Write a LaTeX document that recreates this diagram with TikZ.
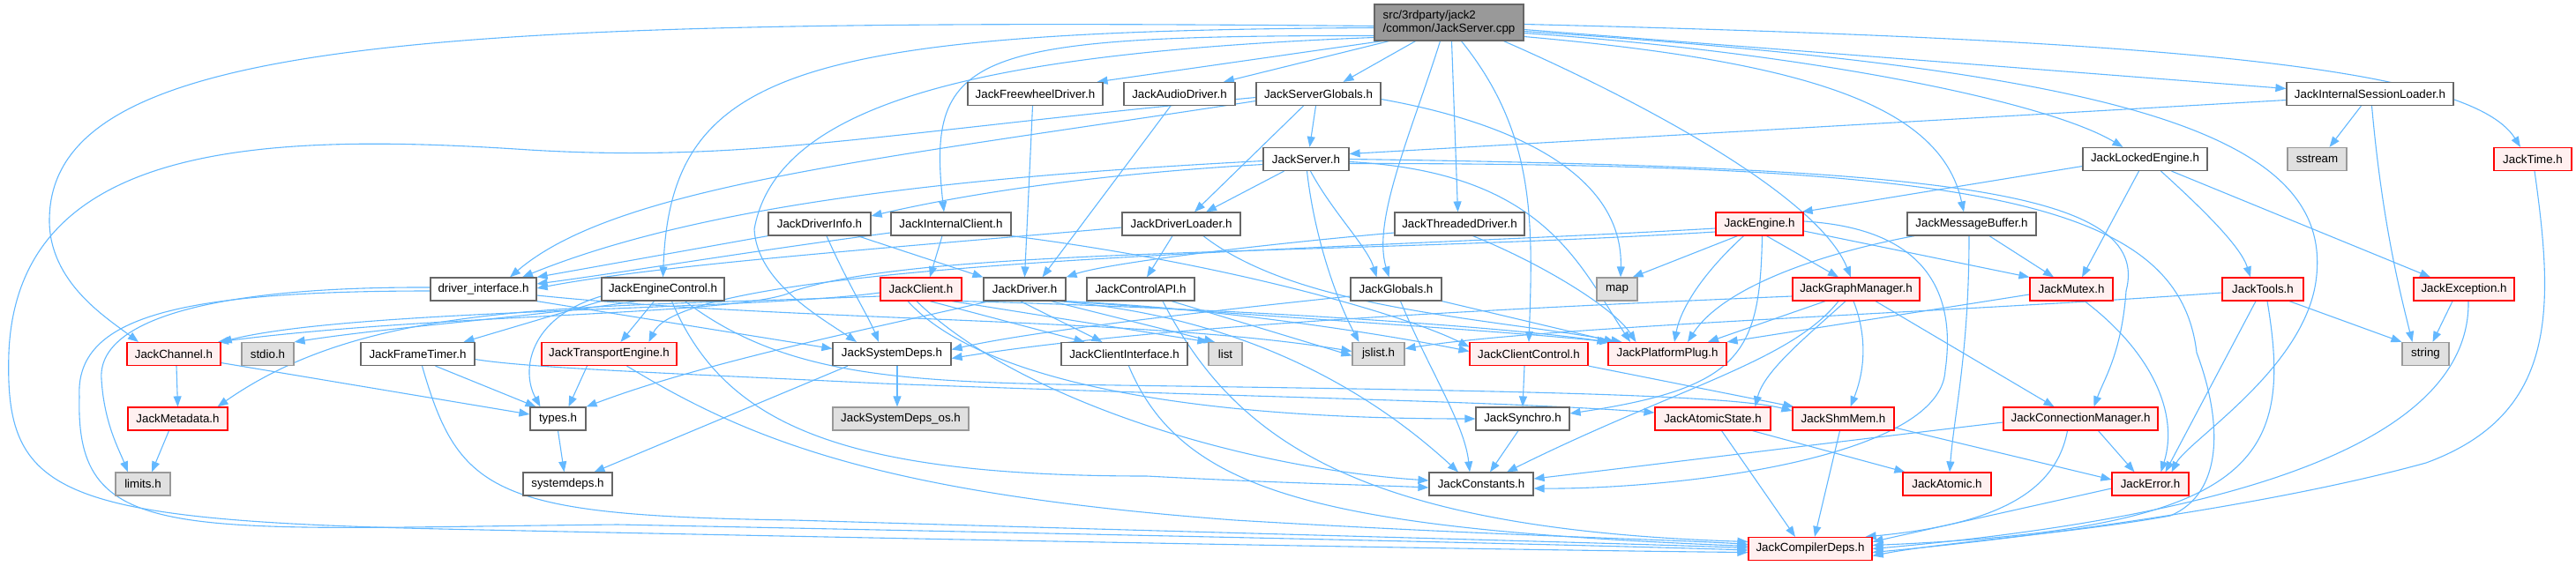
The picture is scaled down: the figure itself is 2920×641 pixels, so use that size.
\documentclass[tikz,border=0pt]{standalone}
\usepackage{fontspec}
\newfontfamily\nodefont{Liberation Sans}
\usetikzlibrary{arrows.meta,backgrounds}
\definecolor{edgeblue}{HTML}{63B8FF}
\definecolor{nodegray}{HTML}{666666}
\definecolor{rootfill}{HTML}{999999}
\definecolor{redfill}{HTML}{FFF0F0}
\definecolor{extfill}{HTML}{E0E0E0}
\definecolor{extdraw}{HTML}{999999}
\begin{document}
\begin{tikzpicture}[x=1pt,y=-1pt,
  nd/.style={draw=nodegray, fill=white, line width=1.2pt, minimum height=26pt, inner sep=0pt, font=\nodefont\fontsize{13.33pt}{15pt}\selectfont},
  rnd/.style={nd, draw=red, fill=redfill},
  xnd/.style={nd, draw=extdraw, fill=extfill},
  rootnd/.style={nd, fill=rootfill, minimum height=41pt, align=left},
  e/.style={draw=edgeblue, line width=1.1pt, -{Triangle[length=12pt,width=9pt]}}]
\useasboundingbox (0,0) rectangle (2920,641);
% row 0
\node[rootnd, minimum width=169pt] (R) at (1642.5,25.5) {src/3rdparty/jack2\\/common/JackServer.cpp};
% row 1
\node[nd, minimum width=153pt] (FWD) at (1173.5,106.5) {JackFreewheelDriver.h};
\node[nd, minimum width=126pt] (AD) at (1337,106.5) {JackAudioDriver.h};
\node[nd, minimum width=141pt] (SG) at (1494.5,106.5) {JackServerGlobals.h};
\node[nd, minimum width=189pt] (ISL) at (2686.5,106.5) {JackInternalSessionLoader.h};
% row 2
\node[nd, minimum width=97pt] (JS) at (1480.5,180.5) {JackServer.h};
\node[nd, minimum width=141pt] (LE) at (2431.5,180.5) {JackLockedEngine.h};
\node[xnd, minimum width=67pt] (SS) at (2626.5,180.5) {sstream};
\node[rnd, minimum width=88pt] (JT) at (2871,180.5) {JackTime.h};
% row 3
\node[nd, minimum width=116pt] (DI) at (929,254) {JackDriverInfo.h};
\node[nd, minimum width=136pt] (IC) at (1078,254) {JackInternalClient.h};
\node[nd, minimum width=134pt] (DL) at (1339,254) {JackDriverLoader.h};
\node[nd, minimum width=147pt] (TD) at (1654.5,254) {JackThreadedDriver.h};
\node[rnd, minimum width=99pt] (JE) at (1994.5,254) {JackEngine.h};
\node[nd, minimum width=146pt] (MB) at (2235,254) {JackMessageBuffer.h};
% row 4
\node[nd, minimum width=120pt] (DIF) at (548,328) {driver\_interface.h};
\node[nd, minimum width=139pt] (EC) at (751.5,328) {JackEngineControl.h};
\node[rnd, minimum width=92pt] (JC) at (1044,328) {JackClient.h};
\node[nd, minimum width=93pt] (JD) at (1161.5,328) {JackDriver.h};
\node[nd, minimum width=122pt] (CA) at (1293,328) {JackControlAPI.h};
\node[nd, minimum width=103pt] (JG) at (1582.5,328) {JackGlobals.h};
\node[xnd, minimum width=46pt] (MAP) at (1833,328) {map};
\node[rnd, minimum width=144pt] (GM) at (2104,328) {JackGraphManager.h};
\node[rnd, minimum width=94pt] (MX) at (2348,328) {JackMutex.h};
\node[rnd, minimum width=92pt] (TL) at (2565,328) {JackTools.h};
\node[rnd, minimum width=114pt] (EX) at (2793,328) {JackException.h};
% row 5
\node[rnd, minimum width=106pt] (CH) at (197,401.5) {JackChannel.h};
\node[xnd, minimum width=59pt] (STDIO) at (303.5,401.5) {stdio.h};
\node[nd, minimum width=129pt] (FT) at (473.5,401.5) {JackFrameTimer.h};
\node[rnd, minimum width=153pt] (TE) at (690.5,401.5) {JackTransportEngine.h};
\node[nd, minimum width=134pt] (SD) at (1011,401.5) {JackSystemDeps.h};
\node[nd, minimum width=143pt] (CI) at (1274.5,401.5) {JackClientInterface.h};
\node[xnd, minimum width=38pt] (LIST) at (1389,401.5) {list};
\node[xnd, minimum width=59pt] (JSL) at (1562.5,401.5) {jslist.h};
\node[rnd, minimum width=134pt] (CC) at (1733,401.5) {JackClientControl.h};
\node[rnd, minimum width=134pt] (PP) at (1890,401.5) {JackPlatformPlug.h};
\node[xnd, minimum width=53pt] (STR) at (2749.5,401.5) {string};
% row 6
\node[rnd, minimum width=113pt] (MD) at (201.5,475) {JackMetadata.h};
\node[nd, minimum width=63pt] (TY) at (632.5,475) {types.h};
\node[xnd, minimum width=154pt] (SDOS) at (1021,475) {JackSystemDeps\_os.h};
\node[nd, minimum width=106pt] (SY) at (1726,475) {JackSynchro.h};
\node[rnd, minimum width=131pt] (AS) at (1941.5,475) {JackAtomicState.h};
\node[rnd, minimum width=115pt] (SM) at (2089.5,475) {JackShmMem.h};
\node[rnd, minimum width=175pt] (CM) at (2358.5,475) {JackConnectionManager.h};
% row 7
\node[xnd, minimum width=62pt] (LIM) at (162,549) {limits.h};
\node[nd, minimum width=101pt] (SYD) at (643.5,549) {systemdeps.h};
\node[nd, minimum width=118pt] (CO) at (1679,549) {JackConstants.h};
\node[rnd, minimum width=100pt] (AT) at (2207,549) {JackAtomic.h};
\node[rnd, minimum width=87pt] (ER) at (2437.5,549) {JackError.h};
% row 8
\node[rnd, minimum width=140pt] (CD) at (2052,622.5) {JackCompilerDeps.h};

\begin{scope}[on background layer]
% root
\draw[e] ([xshift=-76pt]R.south) -- ([xshift=70pt]FWD.north);
\draw[e] ([xshift=-68pt]R.south) -- ([xshift=50pt]AD.north);
\draw[e] ([xshift=-38pt]R.south) -- ([xshift=28pt]SG.north);
\draw[e] ([yshift=-8pt]R.east) -- ([yshift=6pt]ISL.west);
\draw[e] ([yshift=-2pt]R.east) .. controls (2450,45) and (2800,75) .. ([xshift=-14pt]JT.north);
\draw[e] ([yshift=-12pt]R.east) .. controls (2050,60) and (2320,115) .. ([xshift=-25pt]LE.north);
\draw[e] ([yshift=-16pt]R.east) .. controls (2050,70) and (2200,120) .. ([xshift=-9pt]MB.north);
\draw[e] ([xshift=62pt]R.south) .. controls (1850,110) and (2060,220) .. ([xshift=-6pt]GM.north);
\draw[e] ([xshift=-10pt]R.south) .. controls (1600,150) and (1555,250) .. ([xshift=-8pt]JG.north);
\draw[e] ([xshift=3pt]R.south) -- ([xshift=-2pt]TD.north);
\draw[e] ([yshift=-15pt]R.west) .. controls (1100,40) and (1050,60) .. ([xshift=-8pt]IC.north);
\draw[e] ([yshift=-6pt]R.west) .. controls (900,35) and (760,80) .. (EC.north);
\draw[e] ([yshift=-4pt]R.west) .. controls (500,20) and (56,40) .. (56,250) .. controls (56,320) and (120,360) .. ([xshift=-40pt]CH.north);
\draw[e] ([yshift=-17pt]R.west) .. controls (1100,60) and (880,120) .. (855,260) .. controls (858,320) and (930,360) .. ([xshift=-40pt]SD.north);
\draw[e] ([xshift=14pt]R.south) .. controls (1740,150) and (1738,250) .. (CC.north);
\draw[e] ([yshift=-10pt]R.east) .. controls (2400,80) and (2650,150) .. (2625,320) .. controls (2610,420) and (2480,500) .. ([xshift=24pt]ER.north);
% JackServerGlobals
\draw[e] ([xshift=-3pt]SG.south) -- ([xshift=4pt]JS.north);
\draw[e] ([xshift=-17pt]SG.south) -- ([xshift=15pt]DL.north);
\draw[e] ([yshift=-6pt]SG.east) .. controls (1720,140) and (1840,200) .. ([xshift=4pt]MAP.north);
\draw[e] ([yshift=-8pt]SG.west) .. controls (1000,180) and (700,210) .. ([xshift=30pt]DIF.north);
\draw[e] ([yshift=-4pt]SG.west) .. controls (1000,150) and (850,185) .. (600,170) .. controls (300,150) and (20,160) .. (10,400) .. controls (5,560) and (60,590) .. (500,600) .. controls (1200,615) and (1800,625) .. ([yshift=-4pt]CD.west);
% JackServer
\draw[e] ([yshift=-6pt]JS.west) .. controls (1200,200) and (1060,228) .. ([yshift=9pt]DI.east);
\draw[e] ([yshift=-2pt]JS.west) .. controls (1100,200) and (800,230) .. ([xshift=44pt]DIF.north);
\draw[e] ([xshift=-25pt]JS.south) -- ([xshift=28pt]DL.north);
\draw[e] ([xshift=5pt]JS.south) .. controls (1510,240) and (1550,280) .. ([xshift=-22pt]JG.north);
\draw[e] ([xshift=1pt]JS.south) .. controls (1490,270) and (1515,340) .. ([xshift=-22pt]JSL.north);
\draw[e] ([yshift=-3pt]JS.east) .. controls (1750,195) and (1790,300) .. ([xshift=-42pt]PP.north);
\draw[e] (JS.east) .. controls (2200,190) and (2440,215) .. (2410,330) .. controls (2405,400) and (2385,430) .. ([xshift=15pt]CM.north);
\draw[e] ([yshift=-5pt]JS.east) .. controls (2250,185) and (2470,230) .. (2490,400) .. controls (2520,480) and (2520,560) .. (2460,585) .. controls (2350,605) and (2200,615) .. ([yshift=-8pt]CD.east);
% JackInternalSessionLoader, JackTime
\draw[e] ([yshift=-7pt]ISL.west) -- ([yshift=6pt]JS.east);
\draw[e] ([xshift=-10pt]ISL.south) -- ([xshift=14pt]SS.north);
\draw[e] ([xshift=2pt]ISL.south) .. controls (2700,250) and (2720,330) .. ([xshift=-15pt]STR.north);
\draw[e] ([xshift=2pt]JT.south) .. controls (2895,350) and (2900,470) .. (2750,525) .. controls (2550,580) and (2250,615) .. ([yshift=-4pt]CD.east);
% JackLockedEngine
\draw[e] ([yshift=-8pt]LE.west) -- ([xshift=-2pt]JE.north east);
\draw[e] ([xshift=-7pt]LE.south) -- ([xshift=12pt]MX.north);
\draw[e] ([xshift=18pt]LE.south) .. controls (2500,240) and (2540,280) .. ([xshift=-14pt]TL.north);
\draw[e] ([xshift=30pt]LE.south) -- ([xshift=-38pt]EX.north);
% JackEngine
\draw[e] ([xshift=-25pt]JE.south) -- ([xshift=-6pt]MAP.north east);
\draw[e] ([xshift=8pt]JE.south) -- ([xshift=-20pt]GM.north);
\draw[e] ([yshift=-8pt]JE.east) -- (MX.north west);
\draw[e] ([xshift=-18pt]JE.south) .. controls (1930,310) and (1905,350) .. ([xshift=8pt]PP.north);
\draw[e] ([xshift=3pt]JE.south) .. controls (1995,400) and (1975,440) .. ([yshift=6pt]SY.east);
\draw[e] ([yshift=3pt]JE.east) .. controls (2200,260) and (2215,350) .. (2205,420) .. controls (2200,520) and (1900,555) .. ([yshift=-5pt]CO.east);
\draw[e] ([yshift=-5pt]JE.west) .. controls (1500,285) and (780,295) .. ([xshift=45pt]TE.north);
\draw[e] ([yshift=-9pt]JE.west) .. controls (1500,290) and (1050,280) .. (900,330) .. controls (850,358) and (500,355) .. ([xshift=50pt]CH.north);
% JackMessageBuffer
\draw[e] ([xshift=20pt]MB.south) -- ([xshift=-20pt]MX.north);
\draw[e] ([xshift=-65pt]MB.south) .. controls (2050,290) and (1950,330) .. ([xshift=23pt]PP.north);
\draw[e] ([xshift=-3pt]MB.south) .. controls (2232,400) and (2215,470) .. ([xshift=3pt]AT.north);
% JackGraphManager
\draw[e] ([xshift=-35pt]GM.south) -- ([xshift=46pt]PP.north);
\draw[e] ([xshift=-12pt]GM.south) .. controls (2050,380) and (2000,420) .. ([xshift=48pt]AS.north);
\draw[e] ([xshift=-3pt]GM.south) .. controls (2120,390) and (2110,430) .. ([xshift=8pt]SM.north);
\draw[e] ([xshift=22pt]GM.south) -- ([xshift=-30pt]CM.north);
\draw[e] ([xshift=-20pt]GM.south) .. controls (2030,410) and (1900,440) .. ([xshift=29pt]CO.north);
\draw[e] ([yshift=-8pt]GM.west) .. controls (1700,350) and (1300,370) .. ([yshift=-5pt]SD.east);
% JackMutex, JackTools, JackException
\draw[e] ([xshift=15pt]MX.south) .. controls (2440,400) and (2470,470) .. ([xshift=12pt]ER.north);
\draw[e] ([yshift=-6pt]MX.west) -- (PP.north east);
\draw[e] ([xshift=30pt]TL.south) -- (STR.north west);
\draw[e] ([xshift=-8pt]TL.south) -- ([xshift=17pt]ER.north);
\draw[e] ([xshift=5pt]TL.south) .. controls (2600,520) and (2560,600) .. ([yshift=4pt]CD.east);
\draw[e] ([yshift=-4pt]TL.west) .. controls (2200,355) and (1750,370) .. ([yshift=6pt]JSL.east);
\draw[e] ([xshift=-13pt]EX.south) -- ([xshift=8pt]STR.north);
\draw[e] ([xshift=5pt]EX.south) .. controls (2800,480) and (2600,580) .. (CD.east);
% JackInternalClient, JackDriverInfo, JackDriverLoader, JackThreadedDriver, drivers
\draw[e] ([xshift=-10pt]IC.south) -- ([xshift=10pt]JC.north);
\draw[e] ([yshift=-10pt]IC.west) .. controls (850,285) and (700,310) .. ([yshift=6pt]DIF.east);
\draw[e] (IC.south east) .. controls (1400,300) and (1600,360) .. ([yshift=8pt]CC.west);
\draw[e] (DI.south west) -- (DIF.north east);
\draw[e] ([xshift=43pt]DI.south) -- (JD.north west);
\draw[e] ([xshift=8pt]DI.south) .. controls (960,320) and (985,360) .. ([xshift=-15pt]SD.north);
\draw[e] ([yshift=-4pt]DL.west) .. controls (1000,282) and (750,300) .. ([yshift=1pt]DIF.east);
\draw[e] ([xshift=-10pt]DL.south) -- ([xshift=7pt]CA.north);
\draw[e] ([xshift=25pt]DL.south) .. controls (1470,350) and (1680,360) .. ([xshift=16pt]PP.north west);
\draw[e] ([yshift=-10pt]TD.west) .. controls (1400,280) and (1250,300) .. (JD.north east);
\draw[e] ([xshift=15pt]TD.south) .. controls (1750,300) and (1830,350) .. ([xshift=32pt]PP.north west);
\draw[e] ([xshift=-3pt]FWD.south) -- (JD.north);
\draw[e] ([xshift=-10pt]AD.south) -- ([xshift=20pt]JD.north);
% JackClient
\draw[e] ([yshift=-4pt]JC.west) .. controls (850,352) and (400,350) .. (CH.north east);
\draw[e] ([yshift=-8pt]JC.west) .. controls (650,350) and (420,340) .. ([xshift=45pt]MD.north);
\draw[e] ([xshift=10pt]JC.south) -- ([xshift=-45pt]CI.north);
\draw[e] ([xshift=35pt]JC.south) -- (LIST.north west);
\draw[e] (JC.south east) .. controls (1400,350) and (1700,370) .. (PP.north west);
\draw[e] ([xshift=-15pt]JC.south) .. controls (1100,420) and (1300,475) .. (SY.west);
\draw[e] ([xshift=-5pt]JC.south) .. controls (1150,450) and (1400,530) .. ([yshift=4pt]CO.west);
% JackDriver
\draw[e] ([xshift=-40pt]JD.south) .. controls (1000,370) and (800,410) .. (TY.north east);
\draw[e] ([xshift=-5pt]JD.south) -- ([xshift=-25pt]CI.north);
\draw[e] ([xshift=30pt]JD.south) -- ([xshift=-12pt]LIST.north);
\draw[e] ([xshift=38pt]JD.south) .. controls (1420,360) and (1560,450) .. ([xshift=-26pt]CO.north);
\draw[e] (JD.south east) .. controls (1450,360) and (1700,375) .. ([xshift=3pt]PP.north west);
\draw[e] ([xshift=-3pt]JD.south east) .. controls (1400,350) and (1600,385) .. ([yshift=3pt]CC.west);
% JackControlAPI, JackClientInterface, JackGlobals
\draw[e] ([xshift=35pt]CA.south) -- ([yshift=-2pt]JSL.west);
\draw[e] ([xshift=25pt]CA.south) .. controls (1400,500) and (1540,600) .. ([yshift=8pt]CD.west);
\draw[e] ([xshift=5pt]CI.south) .. controls (1340,560) and (1500,600) .. ([yshift=3pt]CD.west);
\draw[e] ([yshift=-8pt]JG.west) .. controls (1300,360) and (1150,380) .. ([yshift=5pt]SD.east);
\draw[e] (JG.south east) -- ([xshift=8pt]PP.north west);
\draw[e] ([xshift=5pt]JG.south) .. controls (1620,420) and (1660,480) .. ([xshift=-13pt]CO.north);
% JackEngineControl
\draw[e] (EC.south west) -- ([xshift=52pt]FT.north);
\draw[e] ([xshift=-10pt]EC.south) -- ([xshift=13pt]TE.north);
\draw[e] ([yshift=-8pt]EC.west) .. controls (600,360) and (590,420) .. ([xshift=-20pt]TY.north);
\draw[e] ([xshift=10pt]EC.south) .. controls (820,480) and (950,540) .. (1300,540) .. controls (1450,548) and (1550,550) .. ([yshift=-4pt]CO.west);
\draw[e] ([xshift=25pt]EC.south) .. controls (880,420) and (1000,432) .. (1200,436) .. controls (1600,442) and (1950,445) .. ([yshift=9pt]SM.west);
\draw[e] ([xshift=-30pt]EC.south) .. controls (600,360) and (450,370) .. (STDIO.north east);
% transport, frame timer, channel, metadata
\draw[e] ([xshift=-25pt]TE.south) -- ([xshift=12pt]TY.north);
\draw[e] ([xshift=20pt]TE.south) .. controls (850,500) and (1000,560) .. (1400,590) .. controls (1700,608) and (1900,612) .. ([yshift=5pt]CD.west);
\draw[e] ([xshift=20pt]FT.south) -- ([xshift=-25pt]TY.north);
\draw[e] ([xshift=5pt]FT.south) .. controls (520,560) and (560,585) .. (900,590) .. controls (1400,605) and (1800,615) .. ([yshift=1pt]CD.west);
\draw[e] ([yshift=-6pt]FT.east) .. controls (600,418) and (800,425) .. (1000,435) .. controls (1400,450) and (1700,455) .. ([yshift=7pt]AS.west);
\draw[e] ([xshift=3pt]CH.south) -- (MD.north);
\draw[e] ([yshift=-10pt]CH.east) -- ([yshift=5pt]TY.west);
\draw[e] ([xshift=-10pt]MD.south) -- ([xshift=10pt]LIM.north);
% driver_interface
\draw[e] ([yshift=2pt]DIF.west) .. controls (250,325) and (110,360) .. (115,430) .. controls (118,480) and (135,510) .. ([xshift=-17pt]LIM.north);
\draw[e] ([yshift=-2pt]DIF.west) .. controls (200,330) and (85,360) .. (90,450) .. controls (85,620) and (200,600) .. (700,595) .. controls (1300,607) and (1800,618) .. ([yshift=-1.5pt]CD.west);
\draw[e] (DIF.south east) -- ([yshift=6pt]SD.west);
\draw[e] ([yshift=-7pt]DIF.east) .. controls (900,365) and (1300,360) .. ([yshift=3pt]JSL.west);
% lower rows
\draw[e] ([xshift=-50pt]SD.south) -- ([xshift=30pt]SYD.north);
\draw[e] ([xshift=6pt]SD.south) -- ([xshift=-4pt]SDOS.north);
\draw[e] (TY.south) -- ([xshift=-4pt]SYD.north);
\draw[e] ([xshift=-5pt]CC.south) -- (SY.north);
\draw[e] (CC.south east) -- ([xshift=2pt]SM.north west);
\draw[e] ([xshift=-5pt]SY.south) -- ([xshift=10pt]CO.north);
\draw[e] ([xshift=45pt]AS.south) -- ([xshift=3pt]AT.north west);
\draw[e] ([xshift=10pt]AS.south) -- ([xshift=-17pt]CD.north);
\draw[e] ([yshift=-10pt]SM.east) -- ([yshift=5pt]ER.west);
\draw[e] ([xshift=-4pt]SM.south) -- ([xshift=5pt]CD.north);
\draw[e] ([yshift=-4pt]CM.west) .. controls (2050,505) and (1850,530) .. ([yshift=6pt]CO.east);
\draw[e] ([xshift=20pt]CM.south) -- ([xshift=-18pt]ER.north);
\draw[e] ([xshift=-15pt]CM.south) .. controls (2330,560) and (2260,595) .. ([xshift=-8pt]CD.north east);
\draw[e] ([yshift=-5pt]ER.west) -- ([yshift=8pt]CD.east);
\end{scope}
\end{tikzpicture}
\end{document}
